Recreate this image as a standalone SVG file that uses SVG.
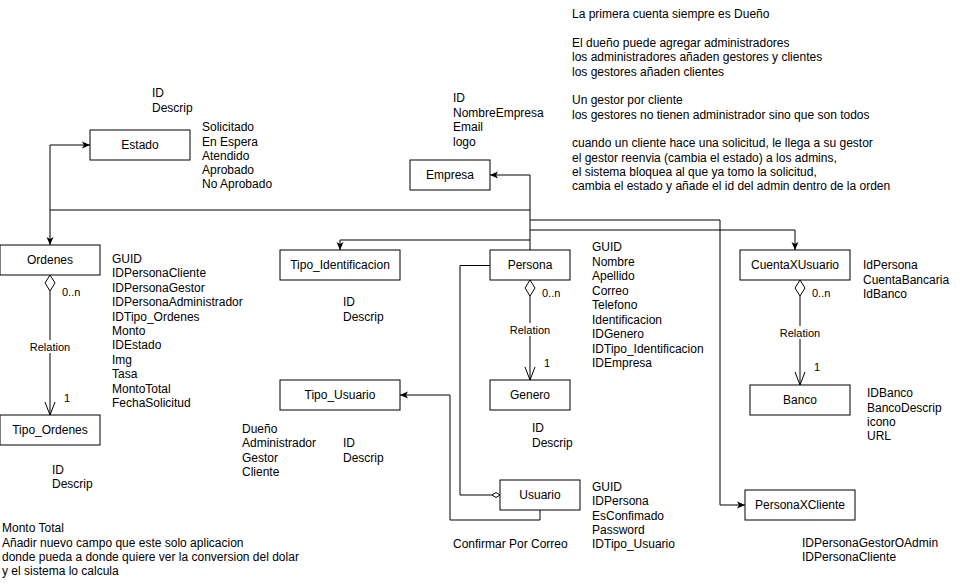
<svg xmlns="http://www.w3.org/2000/svg" width="971" height="586" viewBox="0 0 971 586">
<style>
text{font-family:"Liberation Sans",Arial,sans-serif;font-size:12px;fill:#000}
.c{text-anchor:middle}
.s{font-size:11px}
.box{fill:#fff;stroke:#000;stroke-width:1}
.ln{fill:none;stroke:#000;stroke-width:1}
.dm{fill:#fff;stroke:#000;stroke-width:1}
.lb{fill:#fff}
</style>
<defs>
<marker id="arr" viewBox="0 0 8 8" refX="8" refY="4" markerWidth="8" markerHeight="8" orient="auto" markerUnits="userSpaceOnUse"><path d="M0,0.5 L8,4 L0,7.5 L2,4 z" fill="#000"/></marker>
<marker id="open" viewBox="0 0 14 14" refX="13" refY="7" markerWidth="14" markerHeight="14" orient="auto" markerUnits="userSpaceOnUse"><path d="M0,2 L13,7 L0,12" fill="none" stroke="#000" stroke-width="1"/></marker>
</defs>
<rect width="971" height="586" fill="#fff"/>

<g id="connectors">
<path class="ln" d="M530,250 V175 H490" marker-end="url(#arr)"/>
<path class="ln" d="M530,210 H50 V145 H90" marker-end="url(#arr)"/>
<path class="ln" d="M50,210 V245" marker-end="url(#arr)"/>
<path class="ln" d="M530,240 H340 V250" marker-end="url(#arr)"/>
<path class="ln" d="M530,230 H795 V250" marker-end="url(#arr)"/>
<path class="ln" d="M530,220 H720 V505 H745" marker-end="url(#arr)"/>
<path class="ln" d="M490,265.5 H460 V495 H492"/>
<polygon class="dm" points="500,495 496,497.5 492,495 496,492.5"/>
<path class="ln" d="M540,510 V520 H450 V395 H400" marker-end="url(#arr)"/>
<!-- Ordenes -> Tipo_Ordenes -->
<path class="ln" d="M50,291 V415" marker-end="url(#open)"/>
<polygon class="dm" points="50,275 55,283 50,291 45,283"/>
<rect class="lb" x="29" y="340" width="42" height="13"/>
<text class="c s" x="50" y="351">Relation</text>
<text class="s" x="62" y="296">0..n</text>
<text class="s" x="64" y="402">1</text>
<!-- Persona -> Genero -->
<path class="ln" d="M530,296 V380" marker-end="url(#open)"/>
<polygon class="dm" points="530,280 535,288 530,296 525,288"/>
<rect class="lb" x="509" y="323" width="42" height="13"/>
<text class="c s" x="530" y="334">Relation</text>
<text class="s" x="542" y="297">0..n</text>
<text class="s" x="544" y="367">1</text>
<!-- CuentaXUsuario -> Banco -->
<path class="ln" d="M800,296 V385" marker-end="url(#open)"/>
<polygon class="dm" points="800,280 805,288 800,296 795,288"/>
<rect class="lb" x="779" y="326" width="42" height="13"/>
<text class="c s" x="800" y="337">Relation</text>
<text class="s" x="812" y="297">0..n</text>
<text class="s" x="814" y="371">1</text>
</g>

<g id="estado">
<rect class="box" x="90" y="130" width="100" height="30"/>
<text class="c" x="140" y="149">Estado</text>
<text x="152" y="97">ID</text>
<text x="152" y="112">Descrip</text>
<text x="202" y="131">Solicitado</text>
<text x="202" y="146">En Espera</text>
<text x="202" y="160">Atendido</text>
<text x="202" y="174">Aprobado</text>
<text x="202" y="188">No Aprobado</text>
</g>

<g id="empresa">
<rect class="box" x="410" y="160" width="80" height="30"/>
<text class="c" x="450" y="179">Empresa</text>
<text x="453" y="102">ID</text>
<text x="453" y="117">NombreEmpresa</text>
<text x="453" y="131">Email</text>
<text x="453" y="146">logo</text>
</g>

<g id="ordenes">
<rect class="box" x="0" y="245" width="100" height="30"/>
<text class="c" x="50" y="264">Ordenes</text>
<text x="112" y="263">GUID</text>
<text x="112" y="277.4">IDPersonaCliente</text>
<text x="112" y="291.8">IDPersonaGestor</text>
<text x="112" y="306.2">IDPersonaAdministrador</text>
<text x="112" y="320.6">IDTipo_Ordenes</text>
<text x="112" y="335">Monto</text>
<text x="112" y="349.4">IDEstado</text>
<text x="112" y="363.8">Img</text>
<text x="112" y="378.2">Tasa</text>
<text x="112" y="392.6">MontoTotal</text>
<text x="112" y="407">FechaSolicitud</text>
</g>

<g id="tipo_ordenes">
<rect class="box" x="0" y="415" width="100" height="30"/>
<text class="c" x="50" y="434">Tipo_Ordenes</text>
<text x="52" y="474">ID</text>
<text x="52" y="488">Descrip</text>
</g>

<g id="nota_monto">
<text x="2" y="532">Monto Total</text>
<text x="2" y="547">Añadir nuevo campo que este solo aplicacion</text>
<text x="2" y="561">donde pueda a donde quiere ver la conversion del dolar</text>
<text x="2" y="575">y el sistema lo calcula</text>
</g>

<g id="tipo_identificacion">
<rect class="box" x="280" y="250" width="120" height="30"/>
<text class="c" x="340" y="269">Tipo_Identificacion</text>
<text x="343" y="306">ID</text>
<text x="343" y="321">Descrip</text>
</g>

<g id="persona">
<rect class="box" x="490" y="250" width="80" height="30"/>
<text class="c" x="530" y="269">Persona</text>
<text x="592" y="251">GUID</text>
<text x="592" y="265.5">Nombre</text>
<text x="592" y="280">Apellido</text>
<text x="592" y="294.5">Correo</text>
<text x="592" y="309">Telefono</text>
<text x="592" y="323.5">Identificacion</text>
<text x="592" y="338">IDGenero</text>
<text x="592" y="352.5">IDTipo_Identificacion</text>
<text x="592" y="367">IDEmpresa</text>
</g>

<g id="genero">
<rect class="box" x="490" y="380" width="80" height="30"/>
<text class="c" x="530" y="399">Genero</text>
<text x="532" y="432">ID</text>
<text x="532" y="447">Descrip</text>
</g>

<g id="tipo_usuario">
<rect class="box" x="280" y="380" width="120" height="30"/>
<text class="c" x="340" y="399">Tipo_Usuario</text>
<text x="242" y="433">Dueño</text>
<text x="242" y="447">Administrador</text>
<text x="242" y="462">Gestor</text>
<text x="242" y="476">Cliente</text>
<text x="343" y="447">ID</text>
<text x="343" y="462">Descrip</text>
</g>

<g id="usuario">
<rect class="box" x="500" y="480" width="80" height="30"/>
<text class="c" x="540" y="499">Usuario</text>
<text x="592" y="491">GUID</text>
<text x="592" y="505">IDPersona</text>
<text x="592" y="519.5">EsConfimado</text>
<text x="592" y="534">Password</text>
<text x="592" y="548">IDTipo_Usuario</text>
<text x="453" y="548">Confirmar Por Correo</text>
</g>

<g id="cuentaxusuario">
<rect class="box" x="740" y="250" width="110" height="30"/>
<text class="c" x="795" y="269">CuentaXUsuario</text>
<text x="863" y="269">IdPersona</text>
<text x="863" y="284">CuentaBancaria</text>
<text x="863" y="298">IdBanco</text>
</g>

<g id="banco">
<rect class="box" x="750" y="385" width="100" height="30"/>
<text class="c" x="800" y="404">Banco</text>
<text x="867" y="397">IDBanco</text>
<text x="867" y="412">BancoDescrip</text>
<text x="867" y="426">icono</text>
<text x="867" y="440">URL</text>
</g>

<g id="personaxcliente">
<rect class="box" x="745" y="490" width="110" height="30"/>
<text class="c" x="800" y="509">PersonaXCliente</text>
<text x="802" y="547">IDPersonaGestorOAdmin</text>
<text x="802" y="561">IDPersonaCliente</text>
</g>

<g id="notas">
<text x="572" y="18">La primera cuenta siempre es Dueño</text>
<text x="572" y="47">El dueño puede agregar administradores</text>
<text x="572" y="61">los administradores añaden gestores y clientes</text>
<text x="572" y="76">los gestores añaden clientes</text>
<text x="572" y="104">Un gestor por cliente</text>
<text x="572" y="119">los gestores no tienen administrador sino que son todos</text>
<text x="572" y="147">cuando un cliente hace una solicitud, le llega a su gestor</text>
<text x="572" y="162">el gestor reenvia (cambia el estado) a los admins,</text>
<text x="572" y="176">el sistema bloquea al que ya tomo la solicitud,</text>
<text x="572" y="190">cambia el estado y añade el id del admin dentro de la orden</text>
</g>
</svg>
